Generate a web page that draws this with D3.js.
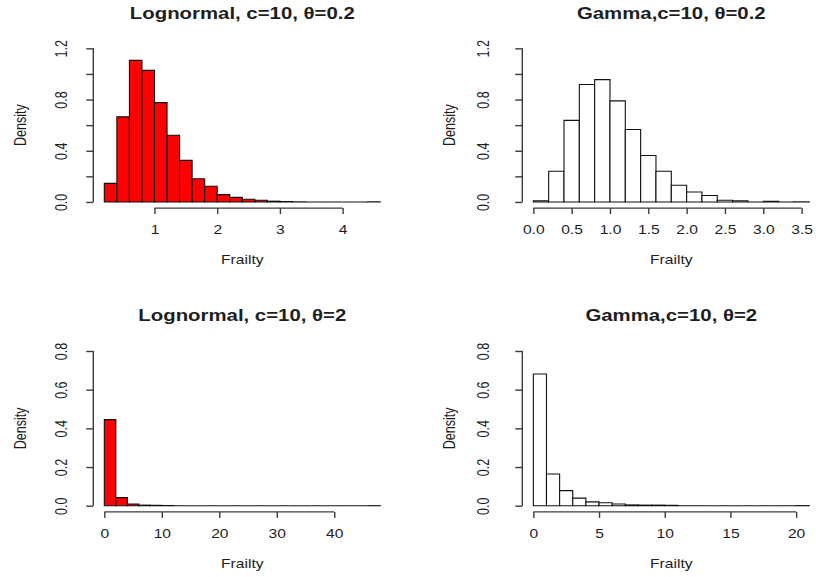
<!DOCTYPE html>
<html>
<head>
<meta charset="utf-8">
<script src="https://cdn.jsdelivr.net/npm/d3@7"></script>
<style>
  body { margin: 0; background: #fff; }
  text { font-family: "Liberation Sans", Arial, sans-serif; fill: #1e1e1e; }
</style>
</head>
<body>
<svg id="chart" width="816" height="577"></svg>
<script>
// ---- histogram data: bin edges and densities ----
const lnLowBreaks = [0.2, 0.4, 0.6, 0.8, 1.0, 1.2, 1.4, 1.6, 1.8, 2.0, 2.2, 2.4, 2.6, 2.8, 3.0, 3.2, 3.4, 3.6, 3.8, 4.0, 4.2, 4.4, 4.6];
const lnLowDensity = [0.145, 0.665, 1.106, 1.028, 0.776, 0.521, 0.325, 0.181, 0.123, 0.057, 0.036, 0.021, 0.013, 0.006, 0.003, 0.001, 0, 0, 0, 0, 0, 0.001];

const gaLowBreaks = [0.0, 0.2, 0.4, 0.6, 0.8, 1.0, 1.2, 1.4, 1.6, 1.8, 2.0, 2.2, 2.4, 2.6, 2.8, 3.0, 3.2, 3.4, 3.6];
const gaLowDensity = [0.010, 0.240, 0.637, 0.918, 0.956, 0.790, 0.566, 0.363, 0.240, 0.130, 0.078, 0.050, 0.013, 0.010, 0, 0.005, 0, 0.001];

const lnHighBreaks = [0, 2, 4, 6, 8, 10, 12, 14, 16, 18, 20, 22, 24, 26, 28, 30, 32, 34, 36, 38, 40, 42, 44, 46, 48];
const lnHighDensity = [0.445, 0.042, 0.009, 0.003, 0.002, 0.001, 0, 0, 0, 0, 0, 0, 0, 0, 0, 0, 0, 0, 0, 0, 0, 0, 0, 0.0002];

const gaHighBreaks = [0, 1, 2, 3, 4, 5, 6, 7, 8, 9, 10, 11, 12, 13, 14, 15, 16, 17, 18, 19, 20, 21];
const gaHighDensity = [0.681, 0.164, 0.078, 0.039, 0.020, 0.015, 0.009, 0.004, 0.003, 0.003, 0.002, 0, 0, 0, 0, 0, 0, 0, 0, 0, 0.0005];

// ---- axis ticks and labels ----
const xTicksLnLow = [1, 2, 3, 4];
const xLabelsLnLow = ["1", "2", "3", "4"];
const xTicksGaLow = [0, 0.5, 1.0, 1.5, 2.0, 2.5, 3.0, 3.5];
const xLabelsGaLow = ["0.0", "0.5", "1.0", "1.5", "2.0", "2.5", "3.0", "3.5"];
const xTicksLnHigh = [0, 10, 20, 30, 40];
const xLabelsLnHigh = ["0", "10", "20", "30", "40"];
const xTicksGaHigh = [0, 5, 10, 15, 20];
const xLabelsGaHigh = ["0", "5", "10", "15", "20"];

const yTicksLow = [0, 0.2, 0.4, 0.6, 0.8, 1.0, 1.2];
const yLabelsLow = ["0.0", "", "0.4", "", "0.8", "", "1.2"];
const yTicksHigh = [0, 0.2, 0.4, 0.6, 0.8];
const yLabelsHigh = ["0.0", "0.2", "0.4", "0.6", "0.8"];

const titles = ["Lognormal, c=10, \u03B8=0.2", "Gamma,c=10, \u03B8=0.2", "Lognormal, c=10, \u03B8=2", "Gamma,c=10, \u03B8=2"];
const xTitle = "Frailty";
const yTitle = "Density";

// ---- panel layout ----
const panels = [
  { breaks: lnLowBreaks,  dens: lnLowDensity,  xt: xTicksLnLow,  xl: xLabelsLnLow,  yt: yTicksLow,  yl: yLabelsLow,  title: titles[0], fill: "#ff0000",
    left: 93.3,  top: 42.2,  bottom: 208.1, yLabOff: 31.5 },
  { breaks: gaLowBreaks,  dens: gaLowDensity,  xt: xTicksGaLow,  xl: xLabelsGaLow,  yt: yTicksLow,  yl: yLabelsLow,  title: titles[1], fill: "#ffffff",
    left: 522.3, top: 42.2,  bottom: 208.1, yLabOff: 39 },
  { breaks: lnHighBreaks, dens: lnHighDensity, xt: xTicksLnHigh, xl: xLabelsLnHigh, yt: yTicksHigh, yl: yLabelsHigh, title: titles[2], fill: "#ff0000",
    left: 93.3,  top: 344.8, bottom: 511.9, yLabOff: 31.5 },
  { breaks: gaHighBreaks, dens: gaHighDensity, xt: xTicksGaHigh, xl: xLabelsGaHigh, yt: yTicksHigh, yl: yLabelsHigh, title: titles[3], fill: "#ffffff",
    left: 522.3, top: 344.8, bottom: 511.9, yLabOff: 39 }
];
const plotWidth = 298;
const stretch = 1.25;      // horizontal widening of glyphs
const axisColor = "#3c3c3c";

const svg = d3.select("#chart");

// R-style axis range: data range padded by 4% on each side
function padded(lo, hi) {
  const d = (hi - lo) * 0.04;
  return [lo - d, hi + d];
}

panels.forEach(p => {
  const x = d3.scaleLinear()
    .domain(padded(p.breaks[0], p.breaks[p.breaks.length - 1]))
    .range([p.left, p.left + plotWidth]);
  const y = d3.scaleLinear()
    .domain(padded(0, p.yt[p.yt.length - 1]))
    .range([p.bottom, p.top]);

  const g = svg.append("g");

  // bars as closed outlines, so empty bins still show as a line on the baseline
  const bins = p.dens.map((d, i) => ({ x0: p.breaks[i], x1: p.breaks[i + 1], d }));
  g.append("g").selectAll("path").data(bins).join("path")
    .attr("d", b => {
      const xa = x(b.x0), xb = x(b.x1), y0 = y(0), y1 = y(b.d);
      return `M${xa},${y0}V${y1}H${xb}V${y0}Z`;
    })
    .attr("fill", p.fill)
    .attr("stroke", "#111")
    .attr("stroke-width", 1.1);

  // x axis (line spans first to last tick)
  const xa = g.append("g")
    .attr("transform", `translate(0,${p.bottom})`)
    .call(d3.axisBottom(x).tickValues(p.xt).tickSizeOuter(0).tickSize(6).tickFormat((d, i) => p.xl[i]));
  xa.select(".domain")
    .attr("d", `M${x(p.xt[0])},0H${x(p.xt[p.xt.length - 1])}`);
  xa.selectAll("path, line").attr("stroke", axisColor).attr("stroke-width", 1.4);
  xa.selectAll("text")
    .attr("y", 22).attr("dy", "0.35em")
    .attr("font-size", 12.5)
    .attr("fill", "#1e1e1e")
    .attr("font-family", "Liberation Sans, Arial, sans-serif")
    .attr("transform", `scale(${stretch},1)`);

  // y axis
  const ya = g.append("g")
    .attr("transform", `translate(${p.left},0)`)
    .call(d3.axisLeft(y).tickValues(p.yt).tickSizeOuter(0).tickSize(7).tickFormat((d, i) => p.yl[i]));
  ya.select(".domain")
    .attr("d", `M0,${y(p.yt[0])}V${y(p.yt[p.yt.length - 1])}`);
  ya.selectAll("path, line").attr("stroke", axisColor).attr("stroke-width", 1.4);
  ya.selectAll("text")
    .attr("x", 0).attr("y", 0).attr("dy", "0.35em")
    .attr("text-anchor", "middle")
    .attr("font-size", 12.5)
    .attr("fill", "#1e1e1e")
    .attr("font-family", "Liberation Sans, Arial, sans-serif")
    .attr("transform", `translate(${-p.yLabOff},0) scale(${stretch},1) rotate(-90)`);

  const cx = p.left + plotWidth / 2;
  const cy = (p.top + p.bottom) / 2;

  // title
  g.append("text")
    .attr("text-anchor", "middle")
    .attr("font-weight", "bold")
    .attr("font-size", 16.3)
    .attr("transform", `translate(${cx},${p.top - 23.5}) scale(${stretch},1)`)
    .text(p.title);

  // axis titles
  g.append("text")
    .attr("text-anchor", "middle")
    .attr("dy", "0.35em")
    .attr("font-size", 12.5)
    .attr("transform", `translate(${cx},${p.bottom + 52}) scale(${stretch},1)`)
    .text(xTitle);

  g.append("text")
    .attr("text-anchor", "middle")
    .attr("dy", "0.35em")
    .attr("font-size", 12.5)
    .attr("transform", `translate(${p.left - 72.5},${cy}) scale(${stretch},1) rotate(-90)`)
    .text(yTitle);
});
</script>
</body>
</html>
